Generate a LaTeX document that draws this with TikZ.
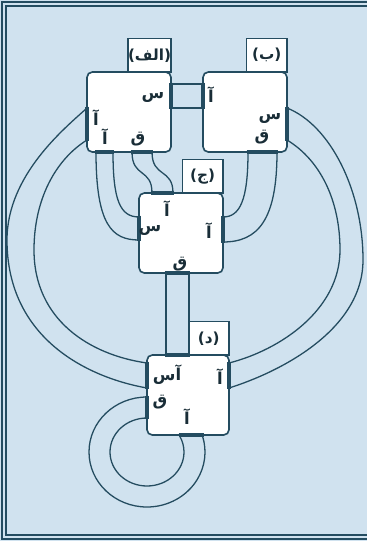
\documentclass[tikz,border=0pt]{standalone}
\usepackage{fontspec}
\newfontfamily\arabicfont[Script=Arabic]{DejaVu Sans}
\newfontfamily\latfont{DejaVu Sans}
\TeXXeTstate=1
\usetikzlibrary{calc}
\definecolor{bgc}{RGB}{208,226,239}
\definecolor{ink}{RGB}{36,76,96}
\definecolor{txt}{RGB}{25,45,55}
\begin{document}
\begin{tikzpicture}[x=0.3mm,y=-0.3mm,
 box/.style={draw=ink, fill=white, line width=1.4pt, rounded corners=1.6mm, minimum width=25.2mm, minimum height=24mm, inner sep=0pt, outer sep=0pt},
 lbl/.style={draw=ink, fill=white, line width=1.1pt, minimum width=12.2mm, minimum height=10mm, inner sep=0pt, outer sep=0pt, text=txt, font=\arabicfont\bfseries\fontsize{13}{15}\selectfont, anchor=south east},
 wire/.style={draw=ink, line width=1.1pt},
 port/.style={draw=ink, line width=3.6pt, shorten <=-0.4mm, shorten >=-0.4mm},
 ptxt/.style={font=\arabicfont\bfseries\fontsize{14}{16}\selectfont, text=txt, inner sep=0pt}
]
\useasboundingbox (0,0) rectangle (367,541);
\clip (0,0) rectangle (367,541);
\fill[bgc] (0,0) rectangle (367,541);
% frame
\draw[ink, line width=1pt] (2,2) rectangle (420,539);
\draw[ink, line width=1pt] (6,6) rectangle (420,535);

% boxes
\node[box] (A) at (129,112) {};
\node[box] (B) at (245,112) {};
\node[box] (C) at (181,233) {};
\node[box, minimum width=24.6mm] (D) at (188,395) {};

% label boxes
\node[lbl] (LA) at (A.north east) {{\latfont\bfseries(}\beginR الف\endR{\latfont\bfseries)}};
\node[lbl] (LB) at (B.north east) {{\latfont\bfseries(}ب{\latfont\bfseries)}};
\node[lbl] (LC) at (C.north east) {{\latfont\bfseries(}ج{\latfont\bfseries)}};
\node[lbl] (LD) at (D.north east) {{\latfont\bfseries(}د{\latfont\bfseries)}};

% port coordinates
\coordinate (ar1) at (171,84);  \coordinate (ar2) at (171,108);
\coordinate (bl1) at (203,84);  \coordinate (bl2) at (203,108);
\coordinate (al1) at (87,108);  \coordinate (al2) at (87,140);
\coordinate (ab1) at (96,152);  \coordinate (ab2) at (113,152);
\coordinate (ac1) at (132,152); \coordinate (ac2) at (152,152);
\coordinate (br1) at (287,108); \coordinate (br2) at (287,140);
\coordinate (bb1) at (248,152); \coordinate (bb2) at (277,152);
\coordinate (ct1) at (152,193); \coordinate (ct2) at (173,193);
\coordinate (cl1) at (139,217); \coordinate (cl2) at (139,240);
\coordinate (cr1) at (223,217); \coordinate (cr2) at (223,242);
\coordinate (cb1) at (166,273); \coordinate (cb2) at (189,273);
\coordinate (dt1) at (166,355); \coordinate (dt2) at (189,355);
\coordinate (du1) at (147,363); \coordinate (du2) at (147,388);
\coordinate (dl1) at (147,397); \coordinate (dl2) at (147,418);
\coordinate (dr1) at (229,363); \coordinate (dr2) at (229,388);
\coordinate (db1) at (180,435); \coordinate (db2) at (203,435);

% connectors
\draw[wire] (ar1) -- (bl1);
\draw[wire] (ar2) -- (bl2);
\draw[wire] (al1) .. controls (65,128) and (7,175) .. (7,240) .. controls (7,340) and (90,378) .. (du2);
\draw[wire] (al2) .. controls (55,160) and (34,200) .. (34,250) .. controls (34,320) and (90,355) .. (du1);
\draw[wire] (br1) .. controls (330,125) and (363,190) .. (363,260) .. controls (363,330) and (280,372) .. (dr2);
\draw[wire] (br2) .. controls (320,160) and (340,200) .. (340,250) .. controls (340,310) and (280,350) .. (dr1);
\draw[wire] (ab1) .. controls (96,225) and (112,240) .. (cl2);
\draw[wire] (ab2) .. controls (113,200) and (120,217) .. (cl1);
\draw[wire] (ac1) .. controls (132,178) and (152,168) .. (ct1);
\draw[wire] (ac2) .. controls (152,178) and (173,168) .. (ct2);
\draw[wire] (bb1) .. controls (248,200) and (240,217) .. (cr1);
\draw[wire] (bb2) .. controls (277,220) and (258,242) .. (cr2);
\draw[wire] (cb1) -- (dt1);
\draw[wire] (cb2) -- (dt2);
\draw[wire] (dl1) arc[start angle=-90, end angle=-376.5, x radius=58, y radius=55] -- (db2);
\draw[wire] (dl2) arc[start angle=-90, end angle=-388, x radius=37, y radius=34] -- (db1);

% ports
\draw[port] (ar1) -- (ar2);
\draw[port] (bl1) -- (bl2);
\draw[port] (al1) -- (al2);
\draw[port] (ab1) -- (ab2);
\draw[port] (ac1) -- (ac2);
\draw[port] (br1) -- (br2);
\draw[port] (bb1) -- (bb2);
\draw[port] (ct1) -- (ct2);
\draw[port] (cl1) -- (cl2);
\draw[port] (cr1) -- (cr2);
\draw[port] (cb1) -- (cb2);
\draw[port] (dt1) -- (dt2);
\draw[port] (du1) -- (du2);
\draw[port] (dl1) -- (dl2);
\draw[port] (dr1) -- (dr2);
\draw[port] (db1) -- (db2);

% port letters
\node[ptxt] (a1) at (153,97) {س};
\node[ptxt] (a2) at (96,118) {آ};
\node[ptxt] (a3) at (105,137) {آ};
\node[ptxt] (a4) at (138,139) {ق};
\node[ptxt] (b1) at (211,95) {آ};
\node[ptxt] (b2) at (270,118) {س};
\node[ptxt] (b3) at (262,137) {ق};
\node[ptxt] (c1) at (167,209) {آ};
\node[ptxt] (c2) at (150,230) {س};
\node[ptxt] (c3) at (209,231) {آ};
\node[ptxt] (c4) at (180,264) {ق};
\node[ptxt] (d1) at (167,375) {\beginR آس\endR};
\node[ptxt] (d2) at (160,402) {ق};
\node[ptxt] (d3) at (187,417) {آ};
\node[ptxt] (d4) at (220,377) {آ};
\end{tikzpicture}
\end{document}
